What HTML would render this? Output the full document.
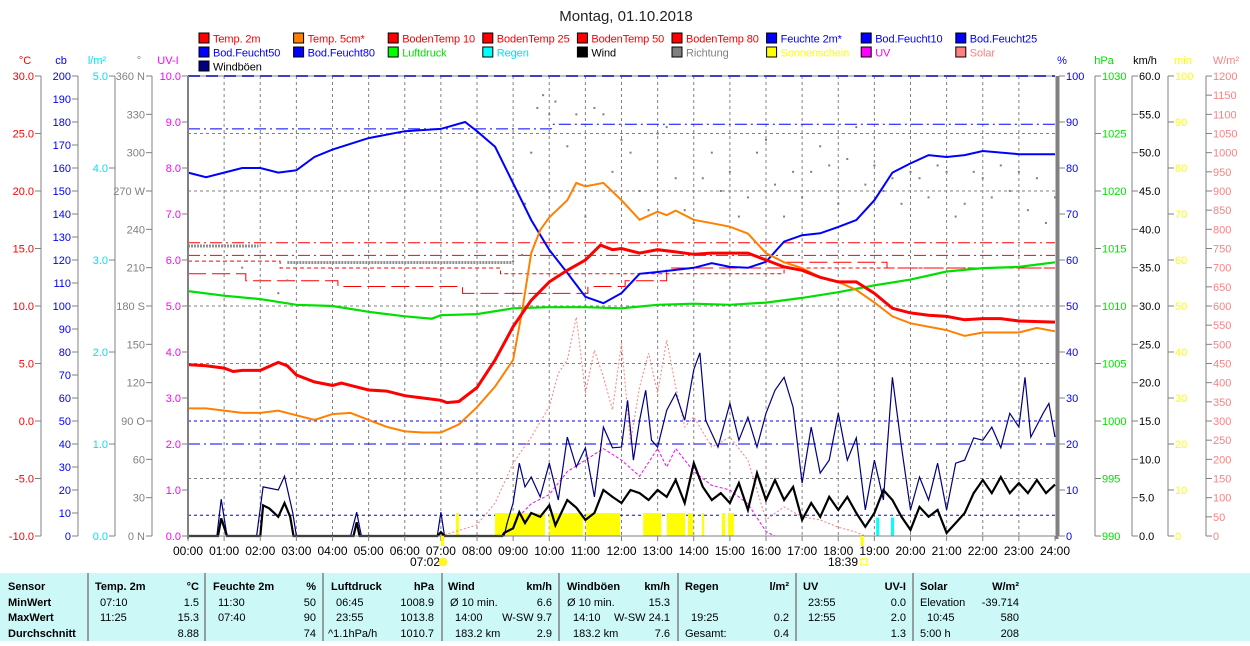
<!DOCTYPE html>
<html><head><meta charset="utf-8">
<style>
body{margin:0;background:#fff;width:1250px;height:641px;overflow:hidden;font-family:"Liberation Sans",sans-serif}
svg text{font-family:"Liberation Sans",sans-serif}
</style></head>
<body>
<svg id="chart" width="1250" height="641" xmlns="http://www.w3.org/2000/svg">
<text x="626" y="21" text-anchor="middle" font-size="15" fill="#222">Montag, 01.10.2018</text>
<rect x="0" y="573" width="1250" height="68" fill="#ccf8f8"/>
</svg>
<script>
// ---------- data ----------
const t2Time=[0,0.5,1,1.25,1.5,2,2.5,2.75,3,3.5,4,4.25,4.5,5,5.5,6,6.5,7,7.17,7.5,8,8.5,9,9.5,10,10.5,11,11.42,11.75,12,12.5,13,13.5,14,14.5,15,15.5,16,16.5,17,17.5,18,18.5,19,19.5,20,20.5,21,21.5,22,22.5,23,24];
const t2Val=[4.9,4.8,4.6,4.3,4.4,4.4,5.1,4.8,4.0,3.4,3.1,3.3,3.1,2.7,2.6,2.2,2.0,1.8,1.6,1.7,2.9,5.3,8.2,10.5,12.1,13.1,14.0,15.3,14.9,15.0,14.6,14.9,14.7,14.5,14.6,14.6,14.6,14.0,13.4,13.1,12.5,12.1,12.1,11.1,9.8,9.4,9.2,9.1,8.8,8.9,8.9,8.7,8.6];
const t5Time=[0,0.5,1,1.5,2,2.5,3,3.5,4,4.5,5,5.5,6,6.5,7,7.5,8,8.5,9,9.25,9.5,9.75,10,10.5,10.75,11,11.5,12,12.5,13,13.25,13.5,14,14.5,15,15.5,16,16.5,17,17.5,18,18.5,19,19.5,20,21,21.5,22,23,23.5,24];
const t5Val=[1.1,1.1,0.9,0.7,0.7,0.9,0.5,0.1,0.6,0.7,0.1,-0.5,-0.9,-1.0,-1.0,-0.3,1.2,3.0,5.3,9.6,14.6,16.6,17.7,19.2,20.7,20.4,20.7,19.2,17.5,18.2,17.9,18.3,17.5,17.2,16.9,16.3,14.6,13.8,13.3,12.5,12.1,11.4,10.3,9.1,8.5,7.9,7.4,7.7,7.7,8.1,7.8];
const humTime=[0,0.5,1,1.5,2,2.5,3,3.5,4,5,6,7,7.67,8,8.5,9,9.5,10,10.5,11,11.5,12,12.5,13,14,14.5,15,15.5,16,16.5,17,17.5,18,18.5,19,19.5,20,20.5,21,21.5,22,23,24];
const humVal=[79,78,79,80,80,79,79.5,82.4,84,86.5,88,88.5,90,88,84.6,76.7,68.7,62.2,57.2,52,50.6,52.8,57,57.4,58.3,59.3,58.5,58.3,59.6,64,65.4,65.8,67.2,68.7,73,79,81,82.8,82.4,82.8,83.7,83,83];
const presTime=[0,1,2,3,4,5,6,6.75,7,8,9,10,11,12,13,14,15,16,17,18,19,20,21,22,23,24];
const presVal=[1011.3,1010.9,1010.6,1010.1,1010.0,1009.5,1009.1,1008.9,1009.2,1009.3,1009.8,1009.9,1009.9,1009.8,1010.1,1010.2,1010.1,1010.3,1010.7,1011.2,1011.8,1012.3,1013.0,1013.3,1013.4,1013.8];
const windTime=[0,0.83,0.92,1.08,2,2.08,2.25,2.5,2.67,2.83,2.92,4.58,4.67,4.75,6.9,7.0,7.1,8.7,8.75,9,9.17,9.33,9.5,9.75,10,10.17,10.5,10.75,11,11.25,11.5,11.75,12,12.25,12.5,12.75,13,13.25,13.5,13.75,14,14.25,14.5,14.75,15,15.25,15.5,15.75,16,16.25,16.5,16.75,17,17.25,17.5,17.75,18,18.25,18.5,18.75,19,19.25,19.5,19.75,20,20.25,20.5,20.75,21,21.25,21.5,21.75,22,22.25,22.5,22.75,23,23.25,23.5,23.75,24];
const windVal=[0,0,2.3,0,0,4,3.6,2.5,4.3,2.5,0,0,1.8,0,0,0.5,0,0,0.4,1.0,3.1,1.7,3.0,2.5,4.0,1.4,4.7,3.7,2.1,3.0,6.0,5.1,4.3,6,5.6,4.7,6,5.1,7.3,4.3,9.5,6.4,4.7,5.6,4.3,6.9,3.4,8.2,4.7,7.3,4.7,6.4,2.1,4.3,2.5,5.1,3.4,5.1,3.0,1.2,3.0,6.0,4.7,2.5,0.8,3.8,2.5,3.4,0.4,1.7,3.0,5.6,7.3,5.6,7.7,5.6,6.9,5.6,7.3,5.6,6.7];
const gustTime=[0,0.8,0.92,1.08,1.9,2.08,2.3,2.5,2.67,2.9,3,4.5,4.67,4.8,6.9,7.0,7.1,8.75,8.83,9,9.17,9.33,9.5,9.75,10,10.25,10.5,10.75,11,11.25,11.5,11.75,12,12.17,12.33,12.5,12.67,12.83,13,13.25,13.5,13.75,14,14.17,14.33,14.67,15,15.25,15.5,15.75,16,16.25,16.5,16.75,17,17.25,17.5,17.75,18,18.25,18.5,18.75,19,19.25,19.5,19.75,20,20.25,20.5,20.75,21,21.25,21.5,21.75,22,22.25,22.5,22.75,23,23.17,23.33,23.67,23.83,24];
const gustVal=[0,0,4.8,0,0,6.4,6.2,6.0,7.8,3,0,0,3.1,0,0,3.1,0,0,1.6,4.3,9.5,6.4,7.7,5.1,9.5,4.7,12.9,9,11.5,5.1,14.2,11.5,11.6,17.7,9.9,15.1,19.0,12.5,11.6,16.4,18.6,15.1,21.7,23.9,15.1,11.6,17.3,12.5,15.5,11.6,16,19,20.7,16.8,6.9,14.2,8.2,9.9,16,9.9,12.8,3.4,9.9,4.7,20.7,11.6,3.4,7.7,4.7,9.5,3.4,9.5,9.9,12.8,12.5,14.2,11.5,16,14.2,20.7,12.9,16,17.3,12.9];
const solarTime=[7,8,8.5,9,9.5,10,10.25,10.5,10.75,11,11.25,11.5,11.75,12,12.25,12.5,12.75,13,13.25,13.5,13.75,14,14.5,15,15.5,16,16.5,17,17.5,18,18.5,18.75];
const solarVal=[0,29,86,190,258,337,425,459,571,373,485,415,329,503,243,389,477,373,511,389,284,311,232,258,198,42,76,50,42,23,10,0];
const uvTime=[9.25,9.5,10,10.5,11,11.5,12,12.5,13,13.25,13.5,14,14.5,15,15.5,16,16.25];
const uvVal=[0.5,0.7,0.9,1.4,1.65,1.9,1.65,1.3,1.9,1.5,1.9,1.4,1.1,1.0,0.7,0.1,0];
const sunStart=[7.42,8.5,10.0,11.02,12.6,13.26,13.84,14.23,14.78,14.95];
const sunEnd=[7.5,9.88,10.93,11.96,13.1,13.76,13.98,14.28,14.87,15.11];
const sunMin=[5,5,5,5,5,5,5,5,5,5];
const rainTime=[19.05,19.46];
const rainVal=[0.2,0.2];
const dirTime=[1.5,2,2.5,2.75,9,9.25,9.33,9.5,9.67,9.83,10,10.17,10.5,10.75,11,11.25,11.5,11.75,12,12.25,12.5,12.75,13,13.25,13.5,13.75,14,14.25,14.5,14.75,15,15.25,15.5,15.75,16,16.25,16.5,16.75,17,17.25,17.5,17.75,18,18.25,18.5,18.75,19,19.25,19.5,19.75,20,20.25,20.5,20.75,21,21.25,21.5,21.75,22,22.25,22.5,22.75,23,23.25,23.5,23.75,24];
const dirVal=[210,200,190,200,215,220,260,300,335,345,330,340,305,330,250,335,330,285,310,300,270,255,315,320,280,255,245,280,300,270,285,250,265,300,310,275,250,285,265,285,305,290,260,295,320,275,290,270,280,260,285,280,265,290,285,250,260,285,280,265,290,270,285,255,280,245,265];
const bt10Start=[0,1.6,4.15,7.6,11.07,12.1,13.25,16.5,19.35];
const bt10End=[1.6,4.15,7.6,11.07,12.1,13.25,16.5,19.35,24];
const bt10Val=[12.8,12.2,11.7,11.1,11.7,12.2,13.3,13.8,13.3];
const bt25Start=[0,2.55,8.65,16.5];
const bt25End=[2.55,8.65,16.5,24];
const bt25Val=[13.9,13.3,12.8,13.3];
const bt50Val=14.4, bt80Val=15.5;
const xTicks=["00:00","01:00","02:00","03:00","04:00","05:00","06:00","07:00","08:00","09:00","10:00","11:00","12:00","13:00","14:00","15:00","16:00","17:00","18:00","19:00","20:00","21:00","22:00","23:00","24:00"];
const degLabels=["0 N","30","60","90 O","120","150","180 S","210","240","270 W","300","330","360 N"];

// ---------- scales ----------
const L=188,R=1055,T=76,B=536;
const X=h=>L+h*(R-L)/24;
const yC=v=>B-(v+10)*11.5;
const yH=v=>B-v*4.6;
const yP=v=>B-(v-990)*11.5;
const yW=v=>B-v*460/60;
const yS=v=>B-v*460/1200;
const yU=v=>B-v*46;
const yD=v=>B-v*460/360;
const yM=v=>B-v*4.6;
const yR=v=>B-v*92;
const yCb=v=>B-v*2.3;

const svg=document.getElementById('chart');
const NS='http://www.w3.org/2000/svg';
function mk(tag,attrs,parent){const e=document.createElementNS(NS,tag);for(const k in attrs)e.setAttribute(k,attrs[k]);(parent||svg).appendChild(e);return e;}
function txt(x,y,s,fill,anchor,size,weight){const e=mk('text',{x:x,y:y,fill:fill,'text-anchor':anchor||'start','font-size':size||12,'font-weight':weight||'normal'});e.textContent=s;return e;}
function poly(ts,vs,yf){return ts.map((t,i)=>X(t).toFixed(1)+','+yf(vs[i]).toFixed(1)).join(' ');}

// grid
for(let h=1;h<24;h++){
  const g=mk('line',{x1:X(h),x2:X(h),y1:T,y2:B,stroke:'#808080','stroke-dasharray':'3,3','stroke-width':1});
  
  
}
[25,20,10,5,-5].forEach(c=>{
  const g=mk('line',{x1:L,x2:R,y1:yC(c),y2:yC(c),stroke:'#808080','stroke-dasharray':'3,3'});
  
  
});

let e;
e=mk('line',{x1:L,x2:R,y1:yCb(200),y2:yCb(200),stroke:'#0000ff','stroke-width':2,'stroke-dasharray':'12,6'});


e=mk('polyline',{points:X(0)+','+yCb(177)+' '+X(10.05)+','+yCb(177)+' '+X(10.1)+','+yCb(179)+' '+X(24)+','+yCb(179),fill:'none',stroke:'#0000ff','stroke-dasharray':'12,4,2,4'});


e=mk('line',{x1:L,x2:R,y1:yCb(40),y2:yCb(40),stroke:'#0000ff','stroke-dasharray':'12,4,2,4'});


e=mk('line',{x1:L,x2:R,y1:yCb(50),y2:yCb(50),stroke:'#0000ff','stroke-dasharray':'3,3'});


e=mk('line',{x1:L,x2:R,y1:yCb(9),y2:yCb(9),stroke:'#0000ff','stroke-dasharray':'3,3'});



e=mk('line',{x1:L,x2:R,y1:yC(bt80Val),y2:yC(bt80Val),stroke:'#ff0000','stroke-dasharray':'12,4,2,4'});


e=mk('line',{x1:L,x2:R,y1:yC(bt50Val),y2:yC(bt50Val),stroke:'#ff0000','stroke-dasharray':'12,4,2,4'});


function stepPts(s,en,v){let p=[];s.forEach((a,i)=>{p.push(X(a)+','+yC(v[i]));p.push(X(en[i])+','+yC(v[i]));});return p.join(' ');}
e=mk('polyline',{points:stepPts(bt25Start,bt25End,bt25Val),fill:'none',stroke:'#ff0000','stroke-dasharray':'4,3'});


e=mk('polyline',{points:stepPts(bt10Start,bt10End,bt10Val),fill:'none',stroke:'#ff0000','stroke-dasharray':'18,6'});



e=mk('line',{x1:X(0),x2:X(1.95),y1:yD(227),y2:yD(227),stroke:'#909090','stroke-width':3,'stroke-dasharray':'2,1'});


e=mk('line',{x1:X(2.75),x2:X(8.95),y1:yD(214),y2:yD(214),stroke:'#909090','stroke-width':3,'stroke-dasharray':'2,1'});



dirTime.forEach((t,i)=>{
  const d=mk('rect',{x:X(t)-1,y:yD(dirVal[i])-1,width:2,height:2,fill:'#808080'});
  
  
});

sunStart.forEach((s,i)=>{
  const r=mk('rect',{x:X(s),y:yM(sunMin[i]),width:Math.max(2,X(sunEnd[i])-X(s)),height:B-yM(sunMin[i]),fill:'#ffff00'});
  
  
});
rainTime.forEach((t,i)=>{
  const r=mk('rect',{x:X(t),y:yR(rainVal[i]),width:3,height:B-yR(rainVal[i]),fill:'#00ffff'});
  
  
});

e=mk('polyline',{points:poly(solarTime,solarVal,yS),fill:'none',stroke:'#ff8080','stroke-dasharray':'2,2'});


e=mk('polyline',{points:poly(uvTime,uvVal,yU),fill:'none',stroke:'#ff00ff','stroke-dasharray':'3,2'});


e=mk('polyline',{points:poly(gustTime,gustVal,yW),fill:'none',stroke:'#000080','stroke-width':1.2});


e=mk('polyline',{points:poly(windTime,windVal,yW),fill:'none',stroke:'#000','stroke-width':2.2});


e=mk('polyline',{points:poly(presTime,presVal,yP),fill:'none',stroke:'#00e000','stroke-width':2.2});


e=mk('polyline',{points:poly(humTime,humVal,yH),fill:'none',stroke:'#0000ff','stroke-width':2});


e=mk('polyline',{points:poly(t5Time,t5Val,yC),fill:'none',stroke:'#ff8000','stroke-width':2});


e=mk('polyline',{points:poly(t2Time,t2Val,yC),fill:'none',stroke:'#ff0000','stroke-width':3});



e=mk('line',{x1:L,x2:L,y1:T,y2:B+3,stroke:'#808080','stroke-width':2});


e=mk('line',{x1:R+2,x2:R+2,y1:T,y2:B+3,stroke:'#808080','stroke-width':3});


e=mk('line',{x1:L,x2:R,y1:T,y2:T,stroke:'#808080','stroke-width':1});


e=mk('line',{x1:L,x2:R,y1:B,y2:B,stroke:'#808080','stroke-width':1});



xTicks.forEach((s,i)=>{
  const tk=mk('line',{x1:X(i),x2:X(i),y1:B,y2:B+5,stroke:'#808080'});
  
  
  const lb=txt(X(i),B+19,s,'#000','middle',12);
  
  
});
e=txt(440,566,'07:02','#000','end',12);


e=mk('circle',{cx:443,cy:562,r:3.5,fill:'#ffff00',stroke:'#ffee44','stroke-width':2});


e=mk('rect',{x:X(18.65)-1,y:B,width:3,height:10,fill:'#ffff00'});


e=mk('rect',{x:X(7.03)-1,y:B,width:3,height:10,fill:'#ffff00'});


e=txt(858,566,'18:39','#000','end',12);


e=mk('rect',{x:861,y:559,width:6,height:6,fill:'none',stroke:'#ffff00','stroke-width':1.2});



function axis(ax,side,vals,yf,fmt,color,name,unit,ux){
  const ln=mk('line',{x1:ax,x2:ax,y1:T,y2:B,stroke:'#808080'});
  
  
  vals.forEach(v=>{
    const y=yf(v);
    const tk=mk('line',{x1:side<0?ax-6:ax,x2:side<0?ax:ax+6,y1:y,y2:y,stroke:'#808080'});
    
    
    const lb=txt(side<0?ax-7:ax+7,y+4,fmt(v),color,side<0?'end':'start',11);
    
    
  });
  const u=txt(ux,64,unit,color,'middle',11);
  
  
}
const rng=(a,b,s)=>{const r=[];for(let v=a;v<=b+1e-9;v+=s)r.push(+v.toFixed(4));return r;};
axis(41,-1,rng(-10,30,5),yC,v=>v.toFixed(1),'#ff0000','temperature',"°C",25);
axis(78,-1,rng(0,200,10),yCb,v=>String(v),'#0000ff','soil-moisture','cb',61);
axis(115,-1,rng(0,5,1),yR,v=>v.toFixed(1),'#00e0ff','rain','l/m²',97);
axis(152,-1,rng(0,360,30),yD,v=>degLabels[v/30],'#808080','direction','°',139);
axis(L,-1,rng(0,10,1),yU,v=>v.toFixed(1),'#ff00ff','uv-index','UV-I',168);
axis(1059,1,rng(0,100,10),yH,v=>String(v),'#0000ff','humidity','%',1062);
axis(1095,1,rng(990,1030,5),yP,v=>String(v),'#00e000','pressure','hPa',1104);
axis(1132,1,rng(0,60,5),yW,v=>v.toFixed(1),'#000000','wind-speed','km/h',1145);
axis(1168,1,rng(0,100,10),yM,v=>String(v),'#ffff00','sunshine','min',1183);
axis(1206,1,rng(0,1200,50),yS,v=>String(v),'#ff8080','solar','W/m²',1226);

const legNames=["Temp. 2m","Temp. 5cm*","BodenTemp 10","BodenTemp 25","BodenTemp 50","BodenTemp 80","Feuchte 2m*","Bod.Feucht10","Bod.Feucht25","Bod.Feucht50","Bod.Feucht80","Luftdruck","Regen","Wind","Richtung","Sonnenschein","UV","Solar","Windböen"];
const legBox=["#ff0000","#ff8000","#ff0000","#ff0000","#ff0000","#ff0000","#0000ff","#0000ff","#0000ff","#0000ff","#0000ff","#00ff00","#00ffff","#000000","#808080","#ffff00","#ff00ff","#ff8080","#000080"];
const legText=["#ff0000","#ff0000","#ff0000","#ff0000","#ff0000","#ff0000","#0000ff","#0000ff","#0000ff","#0000ff","#0000ff","#00e000","#00e0ff","#000000","#808080","#ffff00","#ff00ff","#ff8080","#000000"];
legNames.forEach((n,i)=>{
  const col=i%9,row=Math.floor(i/9);
  const x=199+col*94.6,y=33+row*14;
  const b=mk('rect',{x:x,y:y,width:10,height:10,fill:legBox[i],stroke:'#000','stroke-width':1});
  
  
  const t=txt(x+14,y+9.5,n,legText[i],'start',11);
  
  
  t.setAttribute('letter-spacing','-0.1');
});

const seps=[88,205,323,442,559,678,796,913];
seps.forEach(x=>{
  const s=mk('line',{x1:x,x2:x,y1:573,y2:641,stroke:'#808080','stroke-width':1.5});
  
  
});
const rowsY=[590,606,621,637];
const cells=[
 [8,0,'Sensor','s',1],[8,1,'MinWert','s',1],[8,2,'MaxWert','s',1],[8,3,'Durchschnitt','s',1],
 [95,0,'Temp. 2m','s',1],[199,0,'°C','e',1],[100,1,'07:10','s',0],[199,1,'1.5','e',0],[100,2,'11:25','s',0],[199,2,'15.3','e',0],[199,3,'8.88','e',0],
 [213,0,'Feuchte 2m','s',1],[316,0,'%','e',1],[218,1,'11:30','s',0],[316,1,'50','e',0],[218,2,'07:40','s',0],[316,2,'90','e',0],[316,3,'74','e',0],
 [331,0,'Luftdruck','s',1],[434,0,'hPa','e',1],[336,1,'06:45','s',0],[434,1,'1008.9','e',0],[336,2,'23:55','s',0],[434,2,'1013.8','e',0],[328,3,'^1.1hPa/h','s',0],[434,3,'1010.7','e',0],
 [448,0,'Wind','s',1],[552,0,'km/h','e',1],[450,1,'Ø 10 min.','s',0],[552,1,'6.6','e',0],[455,2,'14:00','s',0],[552,2,'W-SW 9.7','e',0],[455,3,'183.2 km','s',0],[552,3,'2.9','e',0],
 [567,0,'Windböen','s',1],[670,0,'km/h','e',1],[567,1,'Ø 10 min.','s',0],[670,1,'15.3','e',0],[573,2,'14:10','s',0],[670,2,'W-SW 24.1','e',0],[573,3,'183.2 km','s',0],[670,3,'7.6','e',0],
 [685,0,'Regen','s',1],[789,0,'l/m²','e',1],[691,2,'19:25','s',0],[789,2,'0.2','e',0],[685,3,'Gesamt:','s',0],[789,3,'0.4','e',0],
 [803,0,'UV','s',1],[906,0,'UV-I','e',1],[808,1,'23:55','s',0],[906,1,'0.0','e',0],[808,2,'12:55','s',0],[906,2,'2.0','e',0],[906,3,'1.3','e',0],
 [920,0,'Solar','s',1],[1019,0,'W/m²','e',1],[920,1,'Elevation','s',0],[1019,1,'-39.714','e',0],[927,2,'10:45','s',0],[1019,2,'580','e',0],[920,3,'5:00 h','s',0],[1019,3,'208','e',0]
];
cells.forEach(c=>{
  const t=txt(c[0],rowsY[c[1]],c[2],'#000',c[3]==='e'?'end':'start',11,c[4]?'bold':'normal');
  
  
});
</script>
</body></html>
